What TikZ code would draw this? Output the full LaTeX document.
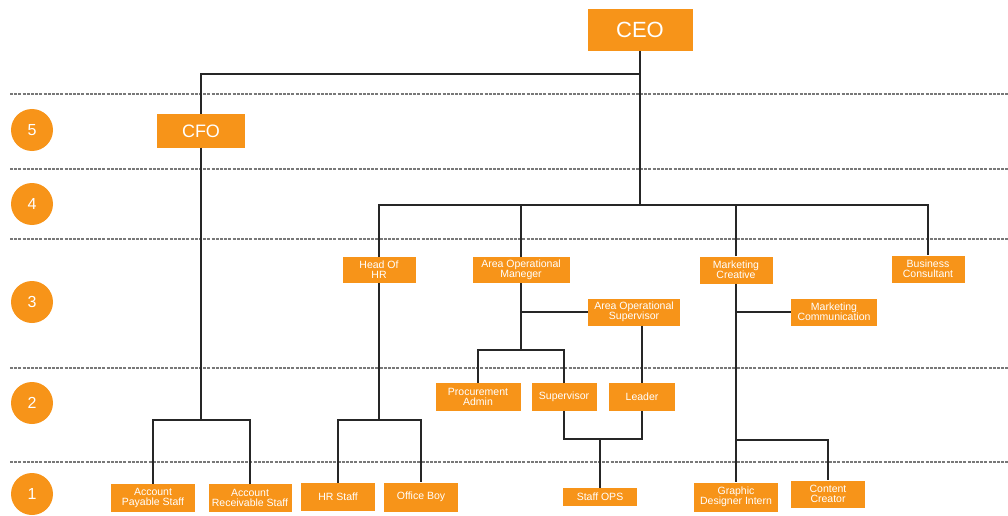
\documentclass[tikz,border=0pt]{standalone}
\usepackage{xcolor}
\usepackage{fontspec}
\setmainfont{Liberation Sans}
\usepackage{tikz}
\usetikzlibrary{positioning, calc}
\definecolor{rolecolor}{RGB}{247,148,25}
\definecolor{guidecolor}{RGB}{120,120,120}

\begin{document}
\begin{tikzpicture}[
    x=1pt, y=-1pt,
    role/.style={fill=rolecolor, text=white, inner sep=0pt, align=center, minimum height=27pt, font=\fontsize{10.5}{10}\selectfont},
    link/.style={line width=1.8pt, black!85},
    level/.style={circle, fill=rolecolor, text=white, minimum size=42pt, inner sep=0pt, font=\fontsize{16}{16}\selectfont},
    guide/.style={guidecolor, line width=1.3pt, dash pattern=on 3pt off 1.2pt}
]
    \useasboundingbox (0,0) rectangle (1008,516);

    % Level guides
    \foreach \y in {94,169,239,368,462}
        \draw[guide] (10,\y) -- (1008,\y);
    \foreach \n/\y in {5/130,4/204,3/302,2/403,1/494}
        \node[level] (lv\n) at (32,\y) {\n};

    % Roles
    \node[role, minimum width=105pt, minimum height=42pt, font=\fontsize{22}{22}\selectfont] (ceo) at (640,30) {CEO};
    \node[role, minimum width=88pt, minimum height=33pt, font=\fontsize{18}{18}\selectfont] (cfo) at (201,131) {CFO};
    \node[role, minimum width=73pt, minimum height=26pt] (hr) at (379,270) {Head Of\\HR};
    \node[role, minimum width=97pt, minimum height=26pt] (aom) at (521,270) {Area Operational\\Maneger};
    \node[role, minimum width=92pt] (aos) at (634,312) {Area Operational\\Supervisor};
    \node[role, minimum width=73pt] (mcr) at (736,270) {Marketing\\Creative};
    \node[role, minimum width=73pt] (bc) at (928,269) {Business\\Consultant};
    \node[role, minimum width=86pt] (mcom) at (834,312) {Marketing\\Communication};
    \node[role, minimum width=85pt, minimum height=28pt] (pa) at (478,397) {Procurement\\Admin};
    \node[role, minimum width=65pt, minimum height=28pt] (sup) at (564,397) {Supervisor};
    \node[role, minimum width=66pt, minimum height=28pt] (lead) at (642,397) {Leader};
    \node[role, minimum width=84pt, minimum height=28pt] (aps) at (153,498) {Account\\Payable Staff};
    \node[role, minimum width=83pt, minimum height=28pt] (ars) at (250,498) {Account\\Receivable Staff};
    \node[role, minimum width=74pt, minimum height=28pt] (hrs) at (338,497) {HR Staff};
    \node[role, minimum width=74pt, minimum height=29pt] (ob) at (421,497) {Office Boy};
    \node[role, minimum width=74pt, minimum height=18pt] (ops) at (600,497) {Staff OPS};
    \node[role, minimum width=84pt, minimum height=29pt] (gdi) at (736,497) {Graphic\\Designer Intern};
    \node[role, minimum width=74pt] (cc) at (828,494) {Content\\Creator};

    % Buses
    \coordinate (topbus) at (640,74);
    \coordinate (midbus) at (640,205);
    \coordinate (cfobus) at (201,420);
    \coordinate (hrbus) at (379,420);
    \coordinate (aombus) at (521,350);
    \coordinate (opsbus) at (600,439);
    \coordinate (mcrbus) at (736,440);

    % Links
    \draw[link] (ceo.south) -- (topbus) -| (cfo.north);
    \draw[link] (topbus) -- (midbus);
    \draw[link] (hr.north) |- (midbus) -| (bc.north);
    \draw[link] (aom.north) -- (aom.north |- midbus);
    \draw[link] (mcr.north) -- (mcr.north |- midbus);
    \draw[link] (cfo.south) -- (cfobus);
    \draw[link] (aps.north) |- (cfobus) -| (ars.north);
    \draw[link] (hr.south) -- (hrbus);
    \draw[link] (hrs.north) |- (hrbus) -| (ob.north);
    \draw[link] (aom.south) -- (aombus);
    \draw[link] (aos.west) -- (aos.west -| aom.south);
    \draw[link] (pa.north) |- (aombus) -| (sup.north);
    \draw[link] (lead.north) -- (lead.north |- aos.south);
    \draw[link] (sup.south) |- (opsbus);
    \draw[link] (lead.south) |- (opsbus);
    \draw[link] (opsbus) -- (ops.north);
    \draw[link] (mcr.south) -- (mcrbus);
    \draw[link] (mcom.west) -- (mcom.west -| mcr.south);
    \draw[link] (mcrbus) -- (gdi.north);
    \draw[link] (mcrbus) -| (cc.north);
\end{tikzpicture}
\end{document}
